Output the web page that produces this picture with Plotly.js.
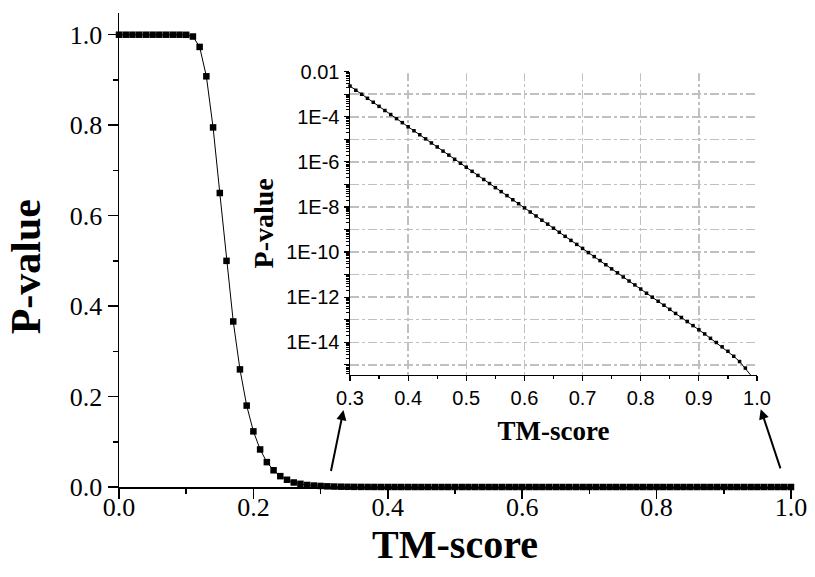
<!DOCTYPE html>
<html>
<head>
<meta charset="utf-8">
<script src="https://cdn.plot.ly/plotly-3.0.1.min.js"></script>
<style>html,body{margin:0;padding:0;background:#fff;}#chart{width:815px;height:577px;}</style>
</head>
<body>
<div id="chart"></div>
<script>
// TM-score values (0.00 .. 1.00, step 0.01)
const tmScore = [
0.00,0.01,0.02,0.03,0.04,0.05,0.06,0.07,0.08,0.09,
0.10,0.11,0.12,0.13,0.14,0.15,0.16,0.17,0.18,0.19,
0.20,0.21,0.22,0.23,0.24,0.25,0.26,0.27,0.28,0.29,
0.30,0.31,0.32,0.33,0.34,0.35,0.36,0.37,0.38,0.39,
0.40,0.41,0.42,0.43,0.44,0.45,0.46,0.47,0.48,0.49,
0.50,0.51,0.52,0.53,0.54,0.55,0.56,0.57,0.58,0.59,
0.60,0.61,0.62,0.63,0.64,0.65,0.66,0.67,0.68,0.69,
0.70,0.71,0.72,0.73,0.74,0.75,0.76,0.77,0.78,0.79,
0.80,0.81,0.82,0.83,0.84,0.85,0.86,0.87,0.88,0.89,
0.90,0.91,0.92,0.93,0.94,0.95,0.96,0.97,0.98,0.99,
1.00];
// P-values (main curve + inset log curve)
const pValue = [
1,1,1,1,1,1,1,1,1,1,
0.9998,0.996,0.973,0.908,0.795,0.650,0.500,0.366,0.260,0.180,
0.123,0.083,0.055,0.037,0.024,0.016,0.010,0.007,0.0045,0.0032,
2.3e-3,1.5e-3,1.0e-3,6.6e-4,4.4e-4,2.9e-4,1.9e-4,1.26e-4,8.3e-5,5.5e-5,
3.6e-5,2.4e-5,1.6e-5,1.05e-5,6.9e-6,4.6e-6,3.0e-6,2.0e-6,1.3e-6,8.7e-7,
5.8e-7,3.8e-7,2.5e-7,1.66e-7,1.1e-7,7.2e-8,4.8e-8,3.2e-8,2.1e-8,1.4e-8,
9.1e-9,6.0e-9,4.0e-9,2.6e-9,1.74e-9,1.15e-9,7.6e-10,5.0e-10,3.3e-10,2.2e-10,
1.45e-10,9.5e-11,6.3e-11,4.2e-11,2.75e-11,1.8e-11,1.2e-11,7.9e-12,5.2e-12,3.5e-12,
2.3e-12,1.5e-12,1.0e-12,6.6e-13,4.4e-13,2.9e-13,1.9e-13,1.26e-13,8.3e-14,5.5e-14,
3.6e-14,2.35e-14,1.5e-14,9.8e-15,6.3e-15,4.0e-15,2.4e-15,1.4e-15,7.2e-16,3.3e-16,
0];
const insetStart = 30; // inset shows TM-score >= 0.3
const insetTickVals = [1e-2,1e-3,1e-4,1e-5,1e-6,1e-7,1e-8,1e-9,1e-10,1e-11,1e-12,1e-13,1e-14,1e-15];
const insetTickText = ["0.01","","1E-4","","1E-6","","1E-8","","1E-10","","1E-12","","1E-14",""];
const insetXTicks = [0.3,0.4,0.5,0.6,0.7,0.8,0.9,1.0];

const serif = '"Liberation Serif", "Times New Roman", serif';
const sans = '"Liberation Sans", Arial, sans-serif';

const traces = [
  {
    x: tmScore, y: pValue, type: 'scatter', mode: 'lines+markers',
    line: {color: '#000', width: 1},
    marker: {symbol: 'square', size: 6.5, color: '#000'},
    cliponaxis: false, xaxis: 'x', yaxis: 'y', hoverinfo: 'skip'
  },
  {
    x: tmScore.slice(insetStart), y: pValue.slice(insetStart), type: 'scatter', mode: 'lines+markers',
    line: {color: '#000', width: 1},
    marker: {symbol: 'square', size: 3.5, color: '#000'},
    cliponaxis: false, xaxis: 'x2', yaxis: 'y2', hoverinfo: 'skip'
  }
];

const layout = {
  width: 815, height: 577,
  margin: {l: 119, r: 24, t: 13, b: 90},
  paper_bgcolor: '#fff', plot_bgcolor: 'rgba(0,0,0,0)',
  showlegend: false,
  xaxis: {
    range: [0, 1], domain: [0, 1],
    tickmode: 'linear', tick0: 0, dtick: 0.2, tickformat: '.1f',
    ticks: 'outside', ticklen: 10, tickwidth: 1.5, tickcolor: '#000',
    minor: {dtick: 0.1, ticks: 'outside', ticklen: 5, tickwidth: 1.5, tickcolor: '#000'},
    showline: true, linecolor: '#000', linewidth: 1.5,
    showgrid: false, zeroline: false, ticklabelstandoff: -14,
    tickfont: {family: serif, size: 26, color: '#000'},
    title: {text: 'TM-score', font: {family: serif, size: 40, color: '#000', weight: 'bold'}, standoff: 4}
  },
  yaxis: {
    range: [0, 1.048], domain: [0, 1],
    tickmode: 'linear', tick0: 0, dtick: 0.2, tickformat: '.1f',
    ticks: 'outside', ticklen: 10, tickwidth: 1.5, tickcolor: '#000',
    minor: {dtick: 0.1, ticks: 'outside', ticklen: 5, tickwidth: 1.5, tickcolor: '#000'},
    showline: true, linecolor: '#000', linewidth: 1.5,
    showgrid: false, zeroline: false,
    tickfont: {family: serif, size: 26, color: '#000'}
  },
  xaxis2: {
    anchor: 'y2', domain: [0.34375, 0.9494],
    range: [0.3, 1.0],
    tickmode: 'array', tickvals: insetXTicks, tickformat: '.1f',
    ticks: 'outside', ticklen: 5, tickwidth: 1.2, tickcolor: '#000',
    minor: {dtick: 0.05, tick0: 0.3, ticks: 'outside', ticklen: 3, tickwidth: 1.2, tickcolor: '#000'},
    showline: true, linecolor: '#000', linewidth: 1.5,
    showgrid: true, gridcolor: '#c0c0c0', gridwidth: 1.5, griddash: 'dashdot',
    zeroline: false,
    tickfont: {family: sans, size: 20, color: '#000'},
    title: {text: 'TM-score', font: {family: serif, size: 27, color: '#000', weight: 'bold'}, standoff: 12}
  },
  yaxis2: {
    anchor: 'x2', domain: [0.2363, 0.8762],
    type: 'log', range: [-15.45, -2],
    tickmode: 'array', tickvals: insetTickVals, ticktext: insetTickText,
    ticks: 'outside', ticklen: 5, tickwidth: 1.2, tickcolor: '#000',
    minor: {dtick: 'D1', ticks: 'outside', ticklen: 3, tickwidth: 1, tickcolor: '#000'},
    showline: true, linecolor: '#000', linewidth: 1.5,
    showgrid: true, gridcolor: '#c0c0c0', gridwidth: 1.5, griddash: 'dashdot',
    zeroline: false,
    tickfont: {family: sans, size: 20, color: '#000'},
    title: {text: 'P-value', font: {family: serif, size: 28, color: '#000', weight: 'bold'}, standoff: 4}
  },
  // masks hiding the grid lines that fall on the open right/top edges of the inset
  shapes: [
    {type: 'line', xref: 'x2 domain', yref: 'y2 domain', x0: 1, x1: 1, y0: 0.012, y1: 1.01,
     line: {color: '#fff', width: 3}, layer: 'above'},
    {type: 'line', xref: 'x2 domain', yref: 'y2 domain', x0: 0.012, x1: 1.01, y0: 1, y1: 1,
     line: {color: '#fff', width: 3}, layer: 'above'}
  ],
  annotations: [
    {text: 'P-value', xref: 'paper', yref: 'paper', x: -0.138, y: 0.464,
     xanchor: 'center', yanchor: 'middle', textangle: -90, showarrow: false,
     font: {family: serif, size: 42, color: '#000', weight: 'bold'}},
    {x: 0.334, y: 0.170, ax: 0.315, ay: 0.032, xref: 'x', yref: 'y', axref: 'x', ayref: 'y',
     text: '', showarrow: true, arrowhead: 2, arrowsize: 1, arrowwidth: 2, arrowcolor: '#000'},
    {x: 0.955, y: 0.172, ax: 0.985, ay: 0.038, xref: 'x', yref: 'y', axref: 'x', ayref: 'y',
     text: '', showarrow: true, arrowhead: 2, arrowsize: 1, arrowwidth: 2, arrowcolor: '#000'}
  ]
};

Plotly.newPlot('chart', traces, layout, {displayModeBar: false, staticPlot: true});
</script>
</body>
</html>
